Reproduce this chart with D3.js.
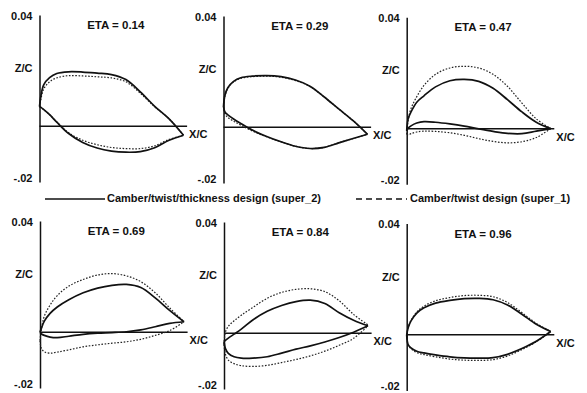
<!DOCTYPE html>
<html>
<head>
<meta charset="utf-8">
<script src="https://cdn.jsdelivr.net/npm/d3@7"></script>
<style>
  body { margin: 0; background: #fff; }
  svg { display: block; }
  text { font-family: "Liberation Sans", Arial, sans-serif; font-weight: bold; fill: #111; }
</style>
</head>
<body>
<svg id="chart"></svg>
<script>
// chordwise stations (x/c) shared by every surface
const xStations = [0, 0.01, 0.03, 0.07, 0.12, 0.2, 0.3, 0.4, 0.5, 0.6, 0.7, 0.8, 0.9, 1.0];

const etaLabels = ["ETA = 0.14", "ETA = 0.29", "ETA = 0.47", "ETA = 0.69", "ETA = 0.84", "ETA = 0.96"];
const yTickVals = [0.04, 0.02, -0.02];
const yTickLabels = ["0.04", "Z/C", "-.02"];
const legendLabels = ["Camber/twist/thickness design (super_2)", "Camber/twist design (super_1)"];

// z/c, solid = super_2, dotted = super_1
const eta14SolidUp = [0.0071, 0.011, 0.015, 0.0175, 0.019, 0.0196, 0.0195, 0.0191, 0.0186, 0.0168, 0.0124, 0.0072, 0.0027, -0.0032];
const eta14SolidLo = [0.0071, 0.0068, 0.006, 0.0042, 0.0015, -0.0025, -0.0058, -0.0078, -0.0089, -0.0093, -0.0091, -0.0077, -0.005, -0.0032];
const eta14DotUp = [0.0071, 0.0098, 0.0135, 0.016, 0.0174, 0.0182, 0.0181, 0.0178, 0.0174, 0.016, 0.0119, 0.007, 0.0027, -0.0032];
const eta14DotLo = [0.0071, 0.0068, 0.006, 0.0042, 0.0016, -0.0022, -0.005, -0.0066, -0.0076, -0.008, -0.008, -0.007, -0.0047, -0.0032];

const eta29SolidUp = [0.0075, 0.0115, 0.0142, 0.0165, 0.0178, 0.0184, 0.0186, 0.0182, 0.017, 0.0148, 0.0109, 0.0066, 0.0024, -0.0025];
const eta29SolidLo = [0.0075, 0.0055, 0.0045, 0.003, 0.0014, -0.001, -0.0033, -0.0052, -0.0068, -0.0076, -0.0072, -0.0056, -0.004, -0.0025];
const eta29DotUp = [0.0075, 0.0113, 0.014, 0.0163, 0.0176, 0.0182, 0.0184, 0.018, 0.0168, 0.0147, 0.0109, 0.0066, 0.0024, -0.0025];
const eta29DotLo = [0.0075, 0.0048, 0.0036, 0.0022, 0.0008, -0.0013, -0.0034, -0.0052, -0.0068, -0.0076, -0.0072, -0.0056, -0.004, -0.0025];

const eta47SolidUp = [-0.0008, 0.0035, 0.006, 0.0095, 0.0118, 0.015, 0.0172, 0.0177, 0.017, 0.0145, 0.0104, 0.006, 0.0023, 0];
const eta47SolidLo = [-0.0008, 0.0002, 0.001, 0.002, 0.0025, 0.0023, 0.0017, 0.0009, -0.0001, -0.001, -0.0017, -0.0018, -0.0009, 0];
const eta47DotUp = [-0.002, 0.003, 0.0072, 0.0115, 0.0155, 0.0195, 0.0218, 0.0224, 0.0218, 0.0195, 0.0152, 0.0092, 0.0035, 0];
const eta47DotLo = [-0.002, -0.0022, -0.0018, -0.0012, -0.0009, -0.001, -0.0015, -0.0024, -0.0036, -0.0046, -0.0051, -0.0047, -0.0032, 0];

const eta69SolidUp = [0, 0.0015, 0.004, 0.0068, 0.0091, 0.0117, 0.0142, 0.0159, 0.0169, 0.0172, 0.0161, 0.0124, 0.0079, 0.0038];
const eta69SolidLo = [0, -0.0006, -0.0011, -0.0017, -0.0019, -0.0014, -0.0007, -0.0003, -0.0001, 0.0002, 0.0009, 0.002, 0.0032, 0.0038];
const eta69DotUp = [-0.003, 0.0012, 0.0058, 0.0098, 0.0132, 0.0166, 0.019, 0.0206, 0.0211, 0.0203, 0.0182, 0.0142, 0.0088, 0.0038];
const eta69DotLo = [-0.003, -0.0058, -0.007, -0.0075, -0.0071, -0.0063, -0.0052, -0.0045, -0.0039, -0.0034, -0.0025, -0.0011, 0.0006, 0.0038];

const eta84SolidUp = [-0.003, -0.0025, -0.0017, -0.0003, 0.0015, 0.0048, 0.0079, 0.01, 0.0114, 0.0119, 0.0107, 0.0074, 0.0047, 0.0027];
const eta84SolidLo = [-0.003, -0.0055, -0.0072, -0.0084, -0.0089, -0.0089, -0.0084, -0.0071, -0.0057, -0.0045, -0.0031, -0.0015, 0.0004, 0.0027];
const eta84DotUp = [-0.004, 0.0005, 0.0025, 0.0045, 0.0065, 0.0093, 0.0126, 0.0147, 0.0158, 0.016, 0.015, 0.0117, 0.0068, 0.003];
const eta84DotLo = [-0.004, -0.0075, -0.0096, -0.0109, -0.0116, -0.0119, -0.0115, -0.0105, -0.0094, -0.0081, -0.0064, -0.0043, -0.0018, 0.0027];

const eta96SolidUp = [0, 0.0025, 0.005, 0.0078, 0.0097, 0.0114, 0.0124, 0.013, 0.0131, 0.0126, 0.0107, 0.0074, 0.0038, 0.0012];
const eta96SolidLo = [0, -0.0035, -0.0047, -0.0059, -0.0065, -0.0072, -0.0079, -0.0083, -0.0084, -0.0082, -0.007, -0.0049, -0.0023, 0.0012];
const eta96DotUp = [0, 0.0025, 0.0052, 0.0082, 0.0103, 0.0122, 0.0134, 0.0141, 0.0142, 0.0137, 0.0116, 0.008, 0.0041, 0.0012];
const eta96DotLo = [0, -0.0037, -0.005, -0.0064, -0.0071, -0.0079, -0.0087, -0.0091, -0.0092, -0.0089, -0.0076, -0.0053, -0.0025, 0.0012];

const solidSets = [
  [eta14SolidUp, eta14SolidLo], [eta29SolidUp, eta29SolidLo], [eta47SolidUp, eta47SolidLo],
  [eta69SolidUp, eta69SolidLo], [eta84SolidUp, eta84SolidLo], [eta96SolidUp, eta96SolidLo]
];
const dotSets = [
  [eta14DotUp, eta14DotLo], [eta29DotUp, eta29DotLo], [eta47DotUp, eta47DotLo],
  [eta69DotUp, eta69DotLo], [eta84DotUp, eta84DotLo], [eta96DotUp, eta96DotLo]
];

const width = 587;
const height = 393;
const chord = 144;

// panel origins: [x of leading edge / z axis, y of z=0] (scan is slightly tilted)
const panelPos = [[39.5, 127], [223.5, 128], [406.7, 129.3], [40, 333], [224, 334], [406.7, 335.5]];

const svg = d3.select("#chart")
  .attr("width", width)
  .attr("height", height)
  .attr("viewBox", [0, 0, width, height]);

const labelNudge = [0.5, -2.5, -4.5];

panelPos.forEach((p, i) => {
  const x = d3.scaleLinear().domain([0, 1]).range([p[0], p[0] + chord]);
  const y = d3.scaleLinear().domain([-0.02, 0.04]).range([p[1] + 55, p[1] - 112]);

  const g = svg.append("g");

  const line = d3.line()
    .x(d => x(d[0]))
    .y(d => y(d[1]))
    .curve(d3.curveCatmullRom.alpha(0.5));

  // x/c axis line
  g.append("line")
    .attr("x1", x(0)).attr("x2", x(1.025))
    .attr("y1", y(0)).attr("y2", y(0))
    .attr("stroke", "#111")
    .attr("stroke-width", 1.5);

  // z/c axis
  const yAxis = g.append("g")
    .attr("transform", `translate(${x(0)},0)`)
    .call(d3.axisLeft(y).tickValues(yTickVals).tickSize(0).tickSizeOuter(0).tickPadding(7)
      .tickFormat((d, k) => yTickLabels[k]));
  yAxis.select(".domain").attr("stroke", "#111").attr("stroke-width", 1.5);
  yAxis.selectAll("text")
    .attr("font-size", 11)
    .attr("font-family", "Liberation Sans, Arial, sans-serif")
    .attr("font-weight", "bold")
    .attr("fill", "#111")
    .attr("transform", (d, k) => `translate(0,${labelNudge[k]})`);

  g.append("text")
    .attr("x", x(1.025) + 2)
    .attr("y", y(0) + 9)
    .attr("dominant-baseline", "middle")
    .attr("font-size", 11)
    .text("X/C");

  g.append("text")
    .attr("x", x(0.53))
    .attr("y", y(0.04) + 11)
    .attr("text-anchor", "middle")
    .attr("dominant-baseline", "middle")
    .attr("font-size", 11.5)
    .text(etaLabels[i]);

  dotSets[i].forEach(surf => {
    g.append("path")
      .datum(xStations.map((xs, k) => [xs, surf[k]]))
      .attr("d", line)
      .attr("fill", "none")
      .attr("stroke", "#222")
      .attr("stroke-width", 1.2)
      .attr("stroke-dasharray", "1.6,1.6");
  });

  solidSets[i].forEach(surf => {
    g.append("path")
      .datum(xStations.map((xs, k) => [xs, surf[k]]))
      .attr("d", line)
      .attr("fill", "none")
      .attr("stroke", "#111")
      .attr("stroke-width", 1.7);
  });
});

// legend
const legend = svg.append("g");
legend.append("line")
  .attr("x1", 45).attr("x2", 105).attr("y1", 199).attr("y2", 199)
  .attr("stroke", "#111").attr("stroke-width", 1.5);
legend.append("text")
  .attr("x", 107).attr("y", 199)
  .attr("dominant-baseline", "middle")
  .attr("font-size", 11)
  .text(legendLabels[0]);
legend.append("line")
  .attr("x1", 356).attr("x2", 407).attr("y1", 199).attr("y2", 199)
  .attr("stroke", "#111").attr("stroke-width", 1.3)
  .attr("stroke-dasharray", "6,4");
legend.append("text")
  .attr("x", 410).attr("y", 199)
  .attr("dominant-baseline", "middle")
  .attr("font-size", 11)
  .text(legendLabels[1]);
</script>
</body>
</html>
